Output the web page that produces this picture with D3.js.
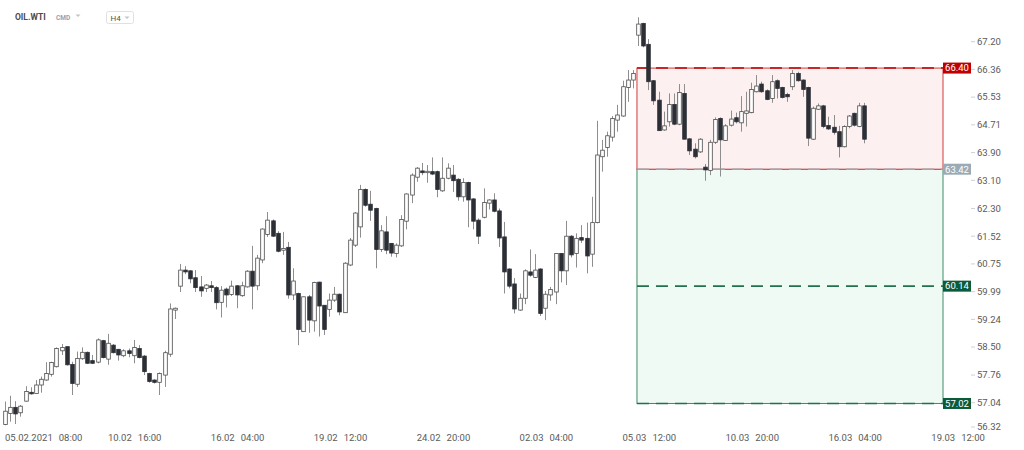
<!DOCTYPE html>
<html>
<head>
<meta charset="utf-8">
<script src="https://cdn.jsdelivr.net/npm/d3@7"></script>
<style>
  body { margin: 0; background: #fff; font-family: Roboto, "Open Sans", sans-serif; }
  svg { display: block; }
</style>
</head>
<body>
<svg id="chart" width="1024" height="450"></svg>
<script>
// OIL.WTI, H4 candles (one per 4h, weekends skipped)
const opens = [
  56.48, 56.76, 56.92, 56.78, 57.08, 57.31, 57.28, 57.50, 57.63, 57.78,
  57.98, 58.40, 58.51, 58.04, 57.52, 58.19, 58.36, 58.14, 58.10, 58.67,
  58.18, 58.55, 58.44, 58.27, 58.40, 58.27, 58.46, 58.26, 57.80, 57.63,
  57.57, 57.76, 58.31, 59.49, 60.14, 60.58, 60.56, 60.37, 60.12, 60.08,
  60.15, 60.10, 59.70, 60.06, 59.91, 60.15, 59.88, 60.12, 60.55, 60.15,
  60.86, 61.57, 61.95, 61.60, 61.13, 61.21, 59.90, 59.94, 58.91, 59.85,
  59.20, 60.25, 59.62, 59.51, 59.76, 59.92, 59.42, 60.72, 61.27, 61.78,
  62.84, 62.42, 62.30, 61.15, 61.64, 61.32, 61.04, 61.25, 61.94, 62.68,
  63.19, 63.37, 63.32, 63.35, 63.35, 62.80, 63.16, 63.25, 63.13, 62.63,
  63.04, 62.57, 61.97, 62.05, 62.45, 62.54, 62.23, 61.50, 60.61, 60.20,
  59.49, 59.81, 60.53, 60.38, 60.61, 59.54, 59.90, 59.98, 61.04, 60.56,
  61.52, 61.04, 61.48, 61.46, 61.02, 61.90, 63.78, 64.05, 64.35, 64.85,
  64.97, 65.82, 66.04, 67.40, 67.76, 67.12, 66.02, 65.44, 64.56, 64.80,
  65.31, 64.73, 65.64, 64.30, 64.00, 63.92, 63.48, 63.38, 64.20, 64.90,
  64.25, 64.70, 64.92, 64.77, 65.05, 65.07, 65.69, 65.92, 65.72, 65.49,
  66.02, 65.82, 65.61, 65.84, 66.24, 66.04, 65.82, 64.29, 65.17, 65.27,
  64.69, 64.64, 64.51, 64.07, 64.66, 65.05, 64.66, 65.27
];
const highs = [
  57.07, 57.22, 57.08, 56.98, 57.47, 57.44, 57.63, 57.72, 58.10, 58.11,
  58.49, 58.58, 58.51, 58.11, 58.38, 58.49, 58.38, 58.29, 58.73, 58.69,
  58.85, 58.58, 58.44, 58.44, 58.46, 58.69, 58.55, 58.29, 57.82, 57.65,
  57.83, 58.40, 59.67, 59.56, 60.75, 60.69, 60.58, 60.58, 60.42, 60.20,
  60.28, 60.14, 60.14, 60.10, 60.29, 60.17, 60.26, 60.58, 61.25, 61.00,
  61.74, 62.20, 61.99, 61.66, 61.64, 61.36, 60.63, 59.96, 59.85, 59.90,
  60.26, 60.26, 59.62, 59.94, 60.12, 59.94, 60.80, 61.47, 62.20, 62.97,
  62.87, 62.80, 62.32, 61.83, 62.08, 61.33, 61.32, 62.11, 62.73, 63.30,
  63.48, 63.60, 63.54, 63.76, 63.38, 63.76, 63.59, 63.54, 63.16, 63.16,
  63.06, 62.59, 62.02, 62.87, 62.56, 62.73, 62.30, 61.92, 60.63, 60.36,
  59.94, 60.60, 61.15, 61.02, 60.63, 60.01, 60.12, 61.05, 61.05, 61.95,
  61.55, 61.60, 61.83, 61.90, 62.63, 64.83, 64.27, 64.51, 64.97, 65.30,
  66.02, 66.34, 66.34, 67.95, 67.78, 67.28, 66.04, 65.69, 65.10, 65.64,
  65.64, 65.92, 65.92, 64.32, 64.17, 64.32, 63.57, 64.27, 64.93, 64.93,
  64.73, 65.13, 65.07, 65.56, 65.69, 65.96, 66.19, 65.99, 65.76, 66.19,
  66.06, 65.84, 65.66, 66.34, 66.29, 66.06, 65.84, 65.25, 65.34, 65.30,
  64.95, 65.00, 64.68, 64.70, 65.00, 65.07, 65.36, 65.36
];
const lows = [
  56.46, 56.55, 56.49, 56.68, 57.07, 57.25, 57.28, 57.30, 57.61, 57.72,
  57.96, 58.29, 58.01, 57.24, 57.45, 58.16, 58.05, 58.05, 58.07, 58.20,
  58.03, 58.33, 58.14, 58.23, 58.23, 58.07, 58.20, 57.76, 57.56, 57.54,
  57.24, 57.45, 58.24, 59.25, 59.98, 60.47, 60.22, 59.98, 59.85, 59.98,
  59.98, 59.51, 59.29, 59.56, 59.87, 59.54, 59.85, 60.10, 59.51, 60.03,
  60.77, 61.50, 61.50, 61.07, 61.00, 59.80, 59.76, 58.55, 58.91, 58.88,
  58.91, 58.78, 58.82, 59.31, 59.71, 59.35, 59.41, 60.69, 61.22, 61.48,
  62.35, 61.95, 60.63, 61.08, 61.02, 60.95, 60.93, 61.22, 61.71, 62.45,
  63.06, 63.25, 63.03, 63.25, 62.62, 62.77, 63.13, 62.77, 62.52, 62.49,
  61.77, 61.71, 61.30, 62.02, 62.27, 62.19, 61.22, 59.94, 60.08, 59.40,
  59.47, 59.65, 60.40, 60.36, 59.33, 59.22, 59.74, 59.65, 60.24, 60.17,
  60.93, 60.65, 61.33, 60.49, 60.67, 61.88, 63.35, 63.78, 64.22, 64.51,
  64.95, 65.39, 65.79, 67.07, 67.03, 65.74, 65.30, 64.54, 64.54, 64.66,
  64.70, 64.70, 64.29, 63.83, 63.73, 63.89, 63.09, 63.25, 64.15, 63.21,
  64.24, 64.66, 64.75, 64.51, 64.66, 65.05, 65.67, 65.66, 65.44, 65.36,
  65.49, 65.49, 65.39, 65.74, 65.99, 65.54, 64.09, 64.27, 65.15, 64.61,
  64.56, 64.42, 63.76, 64.05, 64.61, 64.66, 64.64, 64.17
];
const closes = [
  56.82, 56.92, 56.75, 56.95, 57.33, 57.27, 57.50, 57.65, 57.80, 58.09,
  58.46, 58.49, 58.03, 57.54, 58.20, 58.36, 58.07, 58.07, 58.69, 58.22,
  58.60, 58.35, 58.29, 58.40, 58.33, 58.49, 58.22, 57.85, 57.59, 57.57,
  57.80, 58.35, 59.52, 59.54, 60.58, 60.53, 60.34, 60.10, 60.01, 60.17,
  60.10, 59.69, 60.03, 59.90, 60.14, 59.90, 60.15, 60.55, 60.14, 60.91,
  61.72, 61.97, 61.52, 61.10, 61.18, 59.90, 60.28, 58.97, 59.85, 59.22,
  60.24, 59.60, 58.97, 59.76, 59.92, 59.44, 60.77, 61.41, 62.17, 62.84,
  62.39, 62.25, 61.15, 61.67, 61.13, 61.05, 61.27, 61.99, 62.71, 63.25,
  63.45, 63.32, 63.36, 63.28, 62.84, 63.16, 63.45, 63.09, 62.63, 63.04,
  62.54, 61.94, 61.52, 62.47, 62.54, 62.22, 61.47, 60.53, 60.14, 59.52,
  59.81, 60.56, 60.44, 60.58, 59.40, 59.92, 60.05, 61.04, 60.56, 61.52,
  61.00, 61.46, 61.41, 60.97, 61.90, 63.83, 63.97, 64.39, 64.90, 65.00,
  65.84, 66.04, 66.24, 67.74, 67.07, 65.99, 65.42, 64.54, 64.68, 65.31,
  64.73, 65.67, 64.29, 63.95, 63.78, 64.29, 63.40, 64.20, 64.87, 64.27,
  64.68, 64.88, 64.80, 65.10, 65.12, 65.76, 65.86, 65.69, 65.46, 65.99,
  65.79, 65.52, 65.54, 66.24, 66.02, 65.76, 64.32, 65.20, 65.27, 64.66,
  64.59, 64.49, 64.07, 64.66, 64.97, 64.70, 65.27, 64.29
];

// price axis (log scale) and time axis labels
const priceTicks = [56.32, 57.04, 57.76, 58.50, 59.24, 59.99, 60.75, 61.52,
                    62.30, 63.10, 63.90, 64.71, 65.53, 66.36, 67.20];
const timeTickIndex = [0, 20, 40, 60, 80, 100, 120, 140, 160, 180];
const timeTickDates = ["05.02.2021", "10.02", "16.02", "19.02", "24.02",
                       "02.03", "05.03", "10.03", "16.03", "19.03"];
const timeTickHours = ["08:00", "16:00", "04:00", "12:00", "20:00",
                       "04:00", "12:00", "20:00", "04:00", "12:00"];

// short position drawing: stop, entry, two targets
const zoneStartIndex = 123;
const stopLevel = 66.40;
const entryLevel = 63.42;
const targetLevels = [60.14, 57.02];

const svg = d3.select("#chart");
const plotRight = 943;

const x = d3.scaleLinear().domain([0, 180]).range([5, 931.3]);
const y = d3.scaleLog().domain([57.04, 67.20]).range([402.7, 41.7]);

// header
const head = svg.append("g");
head.append("text").attr("x", 15).attr("y", 20)
  .attr("font-size", 8.5).attr("font-weight", 700).attr("fill", "#4a4a4a")
  .text("OIL.WTI");
head.append("text").attr("x", 56).attr("y", 19.5)
  .attr("font-size", 6.5).attr("font-weight", 700).attr("fill", "#8fa2b8")
  .text("CMD");
head.append("path").attr("d", "M75.5,14.5 L80.5,14.5 L78,17 Z").attr("fill", "#c4c4c4");
head.append("rect").attr("x", 106.5).attr("y", 11.5).attr("width", 27).attr("height", 12)
  .attr("rx", 2).attr("fill", "#fff").attr("stroke", "#e0e0e0");
head.append("text").attr("x", 110.5).attr("y", 20.5)
  .attr("font-size", 8).attr("fill", "#555").text("H4");
head.append("path").attr("d", "M124.5,16.5 L129.5,16.5 L127,19 Z").attr("fill", "#c4c4c4");

// zones
const zx0 = x(zoneStartIndex) - 1;
svg.append("rect")
  .attr("x", zx0).attr("y", y(entryLevel))
  .attr("width", plotRight - zx0).attr("height", y(targetLevels[1]) - y(entryLevel))
  .attr("fill", "#effaf5").attr("stroke", "#3f8a68").attr("stroke-width", 1);
svg.append("rect")
  .attr("x", zx0).attr("y", y(stopLevel))
  .attr("width", plotRight - zx0).attr("height", y(entryLevel) - y(stopLevel))
  .attr("fill", "#fdf0f0").attr("stroke", "#d23a3a").attr("stroke-width", 1);

function levelLine(value, color, width) {
  svg.append("line")
    .attr("x1", zx0).attr("x2", plotRight)
    .attr("y1", y(value)).attr("y2", y(value))
    .attr("stroke", color).attr("stroke-width", width)
    .attr("stroke-dasharray", "12,7");
}
levelLine(stopLevel, "#c62828", 2);
levelLine(entryLevel, "#98a8b3", 1.5);
targetLevels.forEach((v) => levelLine(v, "#23704d", 1.6));

// candles
const candles = svg.append("g").selectAll("g")
  .data(d3.range(opens.length))
  .join("g");

candles.append("line")
  .attr("x1", (i) => Math.round(x(i)) + 0.5)
  .attr("x2", (i) => Math.round(x(i)) + 0.5)
  .attr("y1", (i) => y(highs[i]))
  .attr("y2", (i) => y(lows[i]))
  .attr("stroke", "#8e8e8e").attr("stroke-width", 1);

candles.append("rect")
  .attr("x", (i) => Math.round(x(i)) + 0.5 - 1.8)
  .attr("width", 3.6)
  .attr("y", (i) => y(Math.max(opens[i], closes[i])))
  .attr("height", (i) => Math.max(1, Math.abs(y(opens[i]) - y(closes[i]))))
  .attr("fill", (i) => closes[i] >= opens[i] ? "#ffffff" : "#2c3036")
  .attr("stroke", (i) => closes[i] >= opens[i] ? "#4a4a4a" : "#2c3036")
  .attr("stroke-width", 0.8);

// price axis
const pa = svg.append("g");
priceTicks.forEach((v) => {
  const py = Math.min(y(v), 427);
  pa.append("line").attr("x1", 971).attr("x2", 975)
    .attr("y1", py).attr("y2", py).attr("stroke", "#d0d0d0");
  pa.append("text").attr("x", 977).attr("y", py).attr("dy", "0.35em")
    .attr("font-size", 9.5).attr("fill", "#5a5a5a")
    .text(d3.format(".2f")(v));
});

// price tags
function tag(value, bg) {
  const ty = y(value);
  pa.append("rect").attr("x", plotRight).attr("y", ty - 5.5)
    .attr("width", 28).attr("height", 11).attr("fill", bg);
  pa.append("text").attr("x", plotRight + 14).attr("y", ty).attr("dy", "0.35em")
    .attr("text-anchor", "middle").attr("font-size", 9.5).attr("fill", "#fff")
    .text(d3.format(".2f")(value));
}
tag(stopLevel, "#c00000");
tag(entryLevel, "#9aabb6");
targetLevels.forEach((v) => tag(v, "#0b5a38"));

// time axis
const ta = svg.append("g");
timeTickIndex.forEach((idx, k) => {
  const t = ta.append("text").attr("x", x(idx)).attr("y", 440.5)
    .attr("font-size", 9.5).attr("fill", "#5a5a5a");
  t.append("tspan").text(timeTickDates[k]);
  t.append("tspan").attr("dx", 6).text(timeTickHours[k]);
});
</script>
</body>
</html>
